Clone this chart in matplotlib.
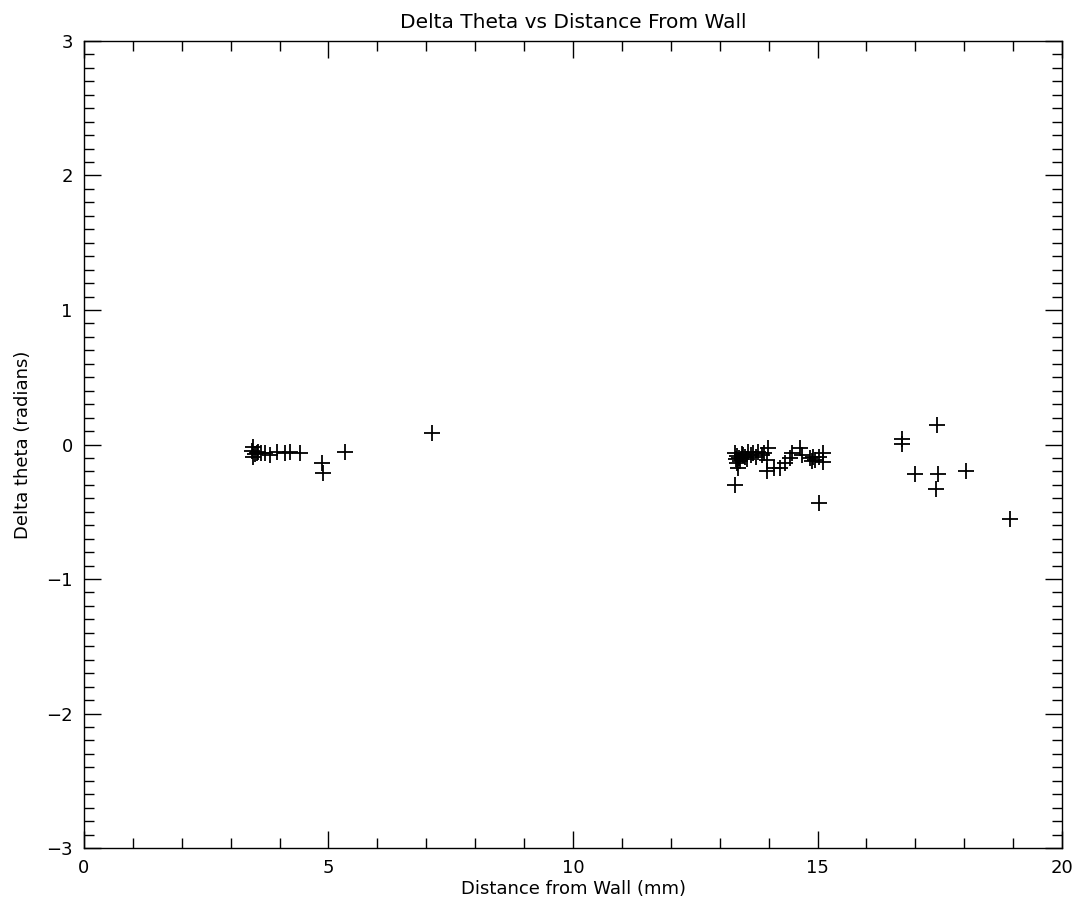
import matplotlib

matplotlib.use("Agg")
import matplotlib.pyplot as plt
from matplotlib.ticker import MultipleLocator

# distance from wall (mm) and delta theta (radians)
dist_mm = [
    3.43, 3.46, 3.46, 3.50, 3.53, 3.56, 3.62, 3.70, 3.80, 3.94, 4.11, 4.21,
    4.42, 4.86, 4.88, 5.34, 7.11,
    13.31, 13.31, 13.33, 13.35, 13.36, 13.38, 13.39, 13.42, 13.45, 13.48,
    13.52, 13.55, 13.58, 13.64, 13.69, 13.75, 13.79, 13.86, 13.90, 13.96,
    13.96, 13.99, 14.10, 14.23, 14.34, 14.44, 14.47, 14.64, 14.68, 14.85,
    14.88, 14.90, 14.95, 15.02, 15.02, 15.12, 15.12,
    16.72, 16.72, 16.99, 17.42, 17.44, 17.47, 18.04, 18.94,
]
delta_theta = [
    -0.050, -0.016, -0.090, -0.070, -0.060, -0.053, -0.060, -0.066, -0.078,
    -0.053, -0.066, -0.053, -0.066, -0.135, -0.214, -0.058, 0.088,
    -0.066, -0.301, -0.110, -0.140, -0.085, -0.177, -0.100, -0.120, -0.070,
    -0.078, -0.095, -0.110, -0.053, -0.080, -0.066, -0.090, -0.053, -0.078,
    -0.060, -0.115, -0.200, -0.028, -0.177, -0.177, -0.140, -0.103, -0.066,
    -0.028, -0.078, -0.103, -0.120, -0.090, -0.115, -0.090, -0.433, -0.066,
    -0.128,
    0.039, 0.004, -0.222, -0.331, 0.145, -0.222, -0.197, -0.554,
]

TEXT_SIZE = 13

fig = plt.figure(figsize=(10.78, 9.09), dpi=100)
ax = fig.add_axes([0.0779, 0.0671, 0.9073, 0.8878])

ax.plot(dist_mm, delta_theta, linestyle="none", marker="+", color="black",
        markersize=11, markeredgewidth=1.3)

ax.set_xlim(0, 20)
ax.set_ylim(-3, 3)
ax.xaxis.set_major_locator(MultipleLocator(5))
ax.xaxis.set_minor_locator(MultipleLocator(1))
ax.yaxis.set_major_locator(MultipleLocator(1))
ax.yaxis.set_minor_locator(MultipleLocator(0.1))
ax.tick_params(which="both", direction="in", top=True, right=True,
               width=1.0, labelsize=TEXT_SIZE)
ax.tick_params(which="major", length=12.5, pad=8)
ax.tick_params(which="minor", length=7.5)
for s in ax.spines.values():
    s.set_linewidth(1.0)

ax.set_title("Delta Theta vs Distance From Wall", fontsize=TEXT_SIZE + 1.5, pad=9)
ax.set_xlabel("Distance from Wall (mm)", fontsize=TEXT_SIZE, labelpad=2)
ax.set_ylabel("Delta theta (radians)", fontsize=TEXT_SIZE, labelpad=10)

fig.savefig("out.png", dpi=100)
plt.close(fig)
